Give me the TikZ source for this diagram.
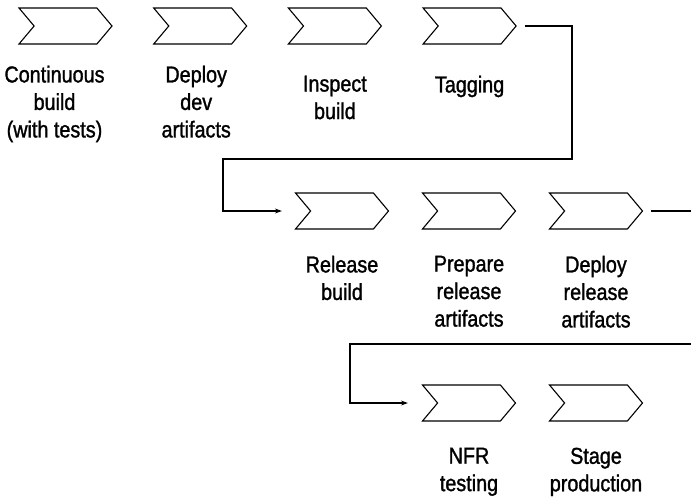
\documentclass[tikz,border=0pt]{standalone}
\usepackage{fontspec}
\setmainfont{Liberation Sans}[FakeStretch=0.86, FakeBold=1.3]
\usetikzlibrary{shapes.symbols, arrows.meta, positioning}

\begin{document}
\begin{tikzpicture}[
  x=1pt, y=-1pt,
  chev/.style={draw, line width=1.1pt, shape=signal, signal from=west, signal to=east,
               signal pointer angle=100, minimum width=93pt, minimum height=36pt,
               inner sep=0pt},
  lbl/.style={align=center, inner sep=0pt, font=\fontsize{23}{27.5}\selectfont},
  flow/.style={line width=1.4pt},
  arrow/.style={flow, -{Stealth[length=7pt, width=5pt]}},
  node distance=21pt
]
  \useasboundingbox (0,0) rectangle (691,496);

  % row 1
  \node[chev] (cb)  at (65.5,26) {};
  \node[chev] (dd)  at (200.2,26) {};
  \node[chev] (ib)  at (334.9,26) {};
  \node[chev] (tag) at (469.6,26) {};

  \node[lbl, below=of cb, xshift=-11pt] (cbl) {Continuous\\build\\(with tests)};
  \node[lbl, below=of dd, xshift=-4pt]  (ddl) {Deploy\\dev\\artifacts};
  \node[lbl, below=31pt of ib]  (ibl)  {Inspect\\build};
  \node[lbl, below=31pt of tag] (tagl) {Tagging};

  % row 2
  \node[chev] (rb)  at (342,211) {};
  \node[chev] (pra) at (469,211) {};
  \node[chev] (dra) at (596,211) {};

  \node[lbl, below=26pt of rb]  (rbl)  {Release\\build};
  \node[lbl, below=26pt of pra] (pral) {Prepare\\release\\artifacts};
  \node[lbl, below=26pt of dra] (dral) {Deploy\\release\\artifacts};

  % row 3
  \node[chev] (nfr) at (469,403) {};
  \node[chev] (stg) at (596,403) {};

  \node[lbl, below=26pt of nfr] (nfrl) {NFR\\testing};
  \node[lbl, below=26pt of stg] (stgl) {Stage\\production};

  \draw[arrow] ([xshift=8pt]tag.east) -| (572,159) -| (223,211) -- ([xshift=-28pt]rb.west);
  \draw[arrow] ([xshift=8pt]dra.east) -| (695,344) -| (350,403) -- ([xshift=-29pt]nfr.west);

\end{tikzpicture}
\end{document}
